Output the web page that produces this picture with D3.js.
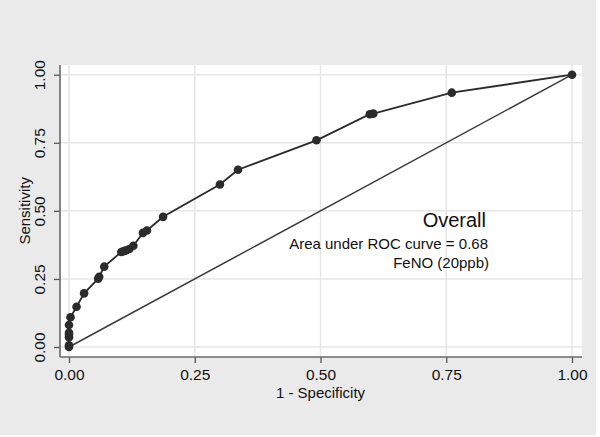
<!DOCTYPE html>
<html>
<head>
<meta charset="utf-8">
<script src="https://cdn.jsdelivr.net/npm/d3@7"></script>
<style>
  body { margin: 0; background: #ffffff; }
  text { font-family: "Liberation Sans", Arial, sans-serif; fill: #111; }
</style>
</head>
<body>
<div id="chart"></div>
<script>
// ROC points (1 - specificity, sensitivity)
var fpr  = [0, 0, 0, 0, 0, 0, 0.003, 0.015, 0.030, 0.058, 0.060, 0.070, 0.104, 0.109, 0.114, 0.120, 0.128, 0.147, 0.155, 0.187, 0.300, 0.336, 0.492, 0.598, 0.605, 0.761, 1];
var sens = [0, 0.006, 0.036, 0.045, 0.052, 0.081, 0.109, 0.148, 0.197, 0.251, 0.258, 0.295, 0.349, 0.352, 0.355, 0.360, 0.372, 0.419, 0.428, 0.478, 0.597, 0.651, 0.759, 0.855, 0.857, 0.934, 1];
var tickVals = [0, 0.25, 0.5, 0.75, 1];
var tickLabels = ["0.00", "0.25", "0.50", "0.75", "1.00"];
var labelLines = ["Overall", "Area under ROC curve = 0.68", "FeNO (20ppb)"];

var rocData = fpr.map((d, i) => ({ x: d, y: sens[i] }));

var width = 600, height = 437;
// plot region (white box) and the data range inside it
var box = { left: 60, right: 582, top: 65, bottom: 357 };
var xScale = d3.scaleLinear().domain([0, 1]).range([69, 572]);
var yScale = d3.scaleLinear().domain([0, 1]).range([347, 74.7]);

var svg = d3.select("#chart").append("svg")
  .attr("width", width)
  .attr("height", height);

// outer grey background
svg.append("rect")
  .attr("x", 0).attr("y", 0)
  .attr("width", 596).attr("height", 435)
  .attr("fill", "#eaeaea");

// plot area
svg.append("rect")
  .attr("x", box.left).attr("y", box.top)
  .attr("width", box.right - box.left).attr("height", box.bottom - box.top)
  .attr("fill", "#ffffff");

// grid lines
svg.append("g").selectAll("line")
  .data(tickVals).enter().append("line")
  .attr("x1", box.left).attr("x2", box.right)
  .attr("y1", d => yScale(d)).attr("y2", d => yScale(d))
  .attr("stroke", "#e6e6e6").attr("stroke-width", 1.5);

svg.append("g").selectAll("line")
  .data(tickVals).enter().append("line")
  .attr("y1", box.top).attr("y2", box.bottom)
  .attr("x1", d => xScale(d)).attr("x2", d => xScale(d))
  .attr("stroke", "#e6e6e6").attr("stroke-width", 1.5);

// reference diagonal
svg.append("path")
  .datum([{ x: 0, y: 0 }, { x: 1, y: 1 }])
  .attr("fill", "none")
  .attr("stroke", "#3a3a3a")
  .attr("stroke-width", 1.5)
  .attr("d", d3.line().x(d => xScale(d.x)).y(d => yScale(d.y)));

// ROC curve
svg.append("path")
  .datum(rocData)
  .attr("fill", "none")
  .attr("stroke", "#2b2b2b")
  .attr("stroke-width", 1.8)
  .attr("d", d3.line().x(d => xScale(d.x)).y(d => yScale(d.y)));

svg.append("g").selectAll("circle")
  .data(rocData).enter().append("circle")
  .attr("cx", d => xScale(d.x))
  .attr("cy", d => yScale(d.y))
  .attr("r", 4.3)
  .attr("fill", "#2b2b2b");

// x axis
var xAxis = svg.append("g")
  .attr("transform", `translate(0, ${box.bottom})`)
  .call(d3.axisBottom(xScale).tickValues(tickVals)
    .tickFormat((d, i) => tickLabels[i]).tickSize(6).tickSizeOuter(0).tickPadding(6));
xAxis.select(".domain").remove();
xAxis.selectAll("line").attr("stroke", "#555").attr("stroke-width", 1.3);
xAxis.selectAll("text")
  .attr("font-size", "15.5px")
  .attr("font-family", "Liberation Sans, Arial, sans-serif")
  .attr("fill", "#111");

// y axis
var yAxis = svg.append("g")
  .attr("transform", `translate(${box.left}, 0)`)
  .call(d3.axisLeft(yScale).tickValues(tickVals)
    .tickFormat((d, i) => tickLabels[i]).tickSize(6).tickSizeOuter(0));
yAxis.select(".domain").remove();
yAxis.selectAll("line").attr("stroke", "#555").attr("stroke-width", 1.3);
yAxis.selectAll("text")
  .attr("transform", "rotate(-90)")
  .attr("x", 0)
  .attr("y", -15)
  .attr("dy", 0)
  .attr("text-anchor", "middle")
  .attr("font-size", "15.5px")
  .attr("font-family", "Liberation Sans, Arial, sans-serif")
  .attr("fill", "#111");

// axis lines
svg.append("line")
  .attr("x1", box.left).attr("x2", box.left)
  .attr("y1", box.top).attr("y2", box.bottom)
  .attr("stroke", "#6a6a6a").attr("stroke-width", 1.6);
svg.append("line")
  .attr("x1", box.left).attr("x2", box.right)
  .attr("y1", box.bottom).attr("y2", box.bottom)
  .attr("stroke", "#6a6a6a").attr("stroke-width", 1.6);

// axis titles
svg.append("text")
  .attr("x", xScale(0.5))
  .attr("y", 398)
  .attr("text-anchor", "middle")
  .style("font-size", "15px")
  .text("1 - Specificity");

svg.append("text")
  .attr("transform", `translate(30, ${yScale(0.5)}) rotate(-90)`)
  .attr("text-anchor", "middle")
  .style("font-size", "15px")
  .text("Sensitivity");

// annotation
svg.append("text")
  .attr("x", 486).attr("y", 227)
  .attr("text-anchor", "end")
  .style("font-size", "20px")
  .text(labelLines[0]);
svg.append("text")
  .attr("x", 488).attr("y", 249)
  .attr("text-anchor", "end")
  .style("font-size", "15px")
  .text(labelLines[1]);
svg.append("text")
  .attr("x", 489).attr("y", 268)
  .attr("text-anchor", "end")
  .style("font-size", "15px")
  .text(labelLines[2]);
</script>
</body>
</html>
